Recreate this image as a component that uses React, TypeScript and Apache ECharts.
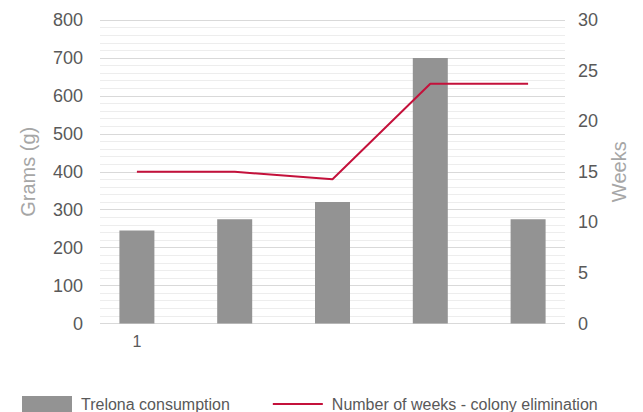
import React, { useEffect, useRef } from "react";
import * as echarts from "echarts";

const xLabels = ["1", "", "", "", ""];
const consumption = [245, 275, 320, 700, 275];
const weeks = [15, 15, 14.25, 23.7, 23.7];
const leftTicks = { min: 0, max: 800, interval: 100 };
const rightTicks = { min: 0, max: 30, interval: 5 };
const seriesNames = ["Trelona consumption", "Number of weeks - colony elimination"];

const FONT = "'Liberation Sans', Arial, sans-serif";

export default function App() {
  const ref = useRef<HTMLDivElement>(null);
  useEffect(() => {
    if (!ref.current) return;
    const chart = echarts.init(ref.current, null, { renderer: "svg" });
    const labelColor = "#595959";
    chart.setOption({
      animation: false,
      textStyle: { fontFamily: FONT },
      grid: [
        { left: 100, right: 78, top: 20, bottom: 88.5 },
        { left: 88, right: 66, top: 20, bottom: 88.5 },
      ],
      legend: {
        left: 22,
        top: 396,
        padding: 0,
        itemWidth: 50,
        itemHeight: 16,
        itemGap: 42,
        data: [
          { name: seriesNames[0], icon: "rect" },
          { name: seriesNames[1], itemStyle: { opacity: 0 } },
        ],
        textStyle: { fontSize: 16, color: labelColor, fontFamily: FONT, padding: [0, 0, 0, 4] },
      },
      xAxis: [
        { gridIndex: 0, type: "category", data: xLabels, show: false },
        {
          gridIndex: 1,
          type: "category",
          data: xLabels,
          axisLine: { show: false },
          axisTick: { show: false },
          axisLabel: { color: labelColor, fontSize: 16, margin: 10, fontFamily: FONT },
        },
      ],
      yAxis: [
        {
          gridIndex: 0,
          type: "value",
          position: "left",
          ...leftTicks,
          name: "Grams (g)",
          nameLocation: "middle",
          nameRotate: 90,
          nameGap: 62,
          nameTextStyle: { color: "#a6a6a6", fontSize: 20, fontFamily: FONT },
          axisLine: { show: false },
          axisTick: { show: false },
          axisLabel: { color: labelColor, fontSize: 18, margin: 17, fontFamily: FONT },
          splitLine: { show: true, lineStyle: { color: "#d9d9d9", width: 1 } },
          minorTick: { show: false, splitNumber: 5 },
          minorSplitLine: { show: true, lineStyle: { color: "#ededed", width: 1 } },
        },
        {
          gridIndex: 0,
          type: "value",
          position: "right",
          ...rightTicks,
          name: "Weeks",
          nameLocation: "middle",
          nameRotate: 90,
          nameGap: 42,
          nameTextStyle: { color: "#a6a6a6", fontSize: 20, fontFamily: FONT },
          axisLine: { show: false },
          axisTick: { show: false },
          axisLabel: { color: labelColor, fontSize: 18, margin: 13, fontFamily: FONT },
          splitLine: { show: false },
        },
        { gridIndex: 1, type: "value", ...leftTicks, show: false },
        { gridIndex: 1, type: "value", ...rightTicks, show: false },
      ],
      series: [
        {
          name: seriesNames[0],
          type: "bar",
          xAxisIndex: 1,
          yAxisIndex: 2,
          data: consumption,
          barWidth: 35,
          itemStyle: { color: "#939393" },
        },
        {
          name: seriesNames[1],
          type: "line",
          xAxisIndex: 1,
          yAxisIndex: 3,
          data: weeks,
          symbol: "none",
          lineStyle: { color: "#c4113b", width: 2 },
          itemStyle: { color: "#c4113b" },
        },
      ],
    });
    return () => chart.dispose();
  }, []);
  return <div ref={ref} style={{ width: 643, height: 412, position: "absolute", left: 0, top: 0 }} />;
}
